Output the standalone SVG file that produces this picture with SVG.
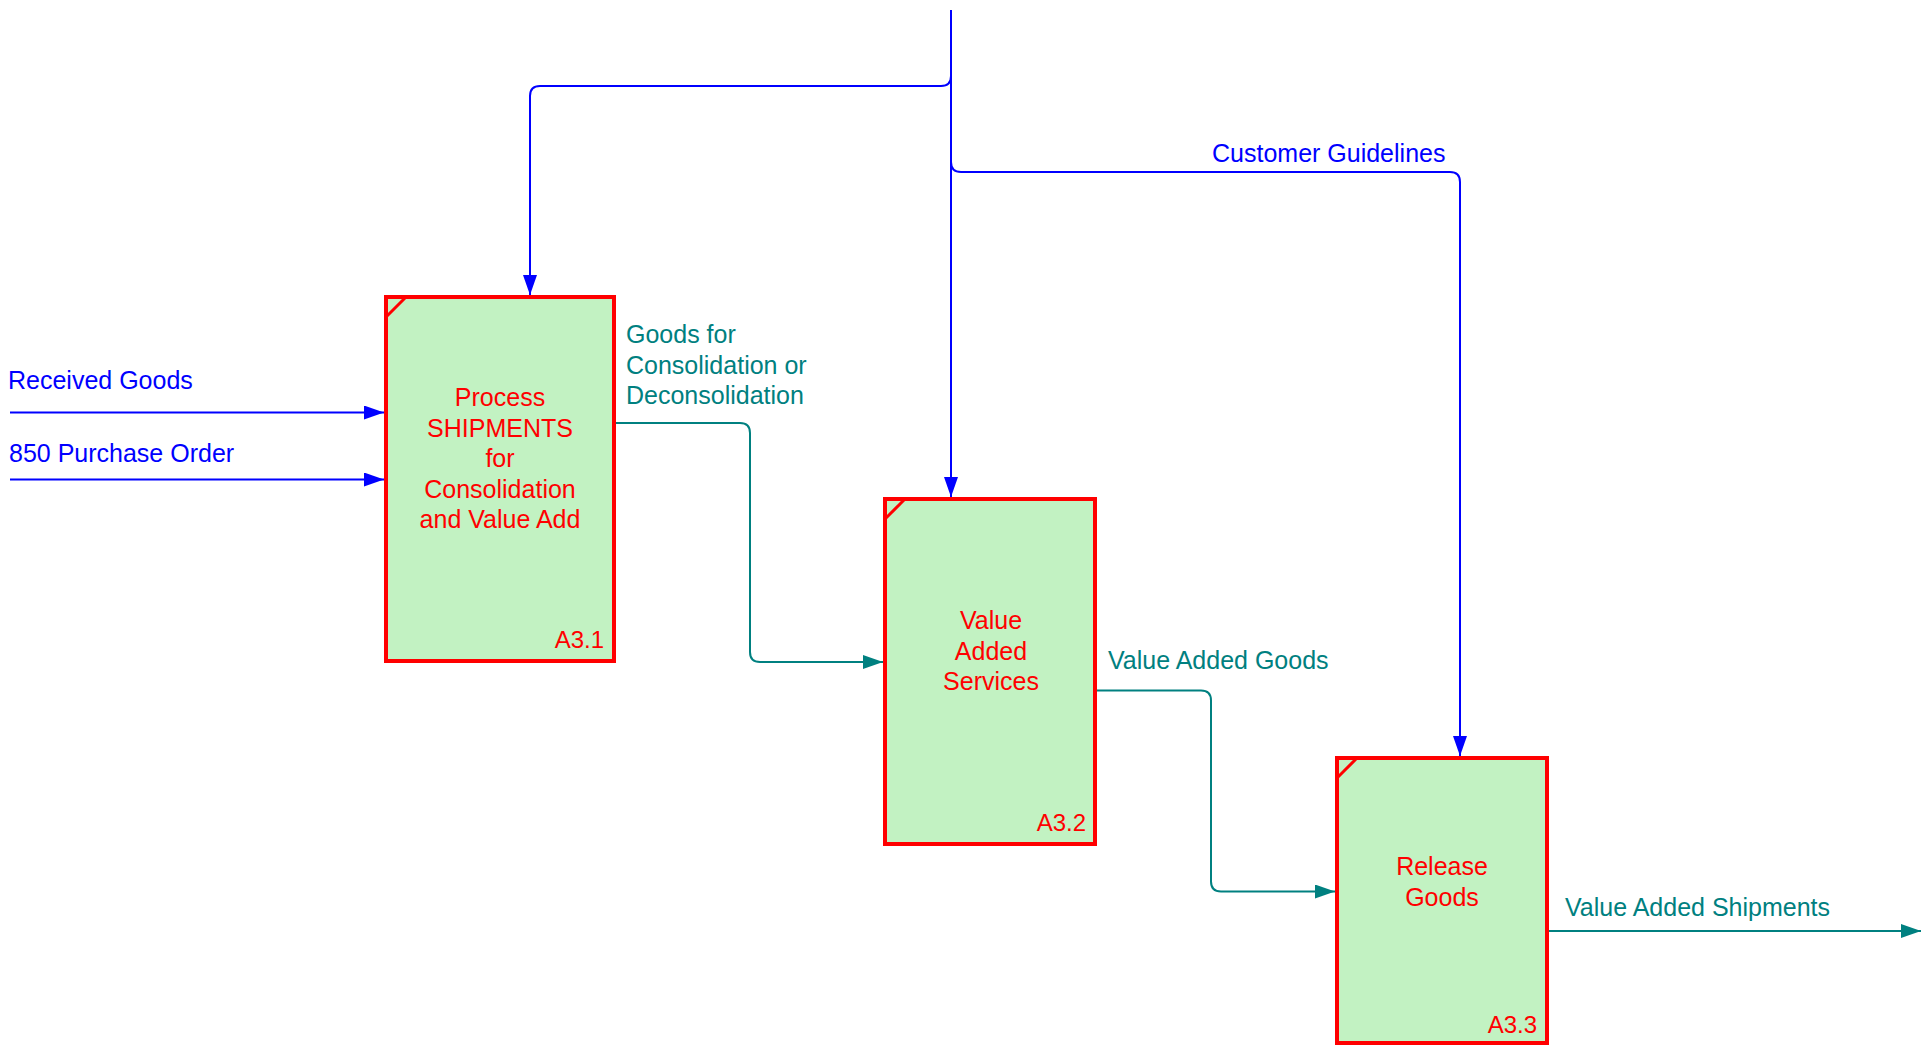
<svg xmlns="http://www.w3.org/2000/svg" width="1923" height="1046" viewBox="0 0 1923 1046">
<style>
.box{fill:#C2F2C2;stroke:#FF0000;stroke-width:4}
.corner{stroke:#FF0000;stroke-width:3;fill:none}
.nt{font-family:"Liberation Sans",Arial,sans-serif;font-size:25px;fill:#FF0000;text-anchor:middle}
.id{font-family:"Liberation Sans",Arial,sans-serif;font-size:24px;fill:#FF0000;text-anchor:end}
.blue{stroke:#0000FF;stroke-width:2;fill:none;marker-end:url(#ab)}
.teal{stroke:#008080;stroke-width:2;fill:none;marker-end:url(#at)}
.lb{font-family:"Liberation Sans",Arial,sans-serif;font-size:25px;fill:#0000FF}
.lt{font-family:"Liberation Sans",Arial,sans-serif;font-size:25px;fill:#008080}
</style>
<defs>
<marker id="ab" markerUnits="userSpaceOnUse" markerWidth="22" markerHeight="16" refX="20" refY="7" orient="auto"><path d="M0,0 L20,7 L0,14 Z" fill="#0000FF"/></marker>
<marker id="at" markerUnits="userSpaceOnUse" markerWidth="22" markerHeight="16" refX="20" refY="7" orient="auto"><path d="M0,0 L20,7 L0,14 Z" fill="#008080"/></marker>
</defs>
<rect width="1923" height="1046" fill="#FFFFFF"/>
<g id="connectors">
<path class="blue" d="M951,10 V497"/>
<path class="blue" d="M951,76 Q951,86 941,86 H540 Q530,86 530,96 V295"/>
<path class="blue" d="M951,162 Q951,172 961,172 H1450 Q1460,172 1460,182 V756"/>
<path class="blue" d="M10,412.5 H384"/>
<path class="blue" d="M10,479.5 H384"/>
<path class="teal" d="M616,423 H740 Q750,423 750,433 V652 Q750,662 760,662 H883"/>
<path class="teal" d="M1097,690.5 H1201 Q1211,690.5 1211,700.5 V881.5 Q1211,891.5 1221,891.5 H1335"/>
<path class="teal" d="M1549,931 H1921"/>
<text class="lb" x="1212" y="162">Customer Guidelines</text>
<text class="lb" x="8" y="389">Received Goods</text>
<text class="lb" x="9" y="462">850 Purchase Order</text>
<text class="lt" x="626" y="343">Goods for</text>
<text class="lt" x="626" y="373.5">Consolidation or</text>
<text class="lt" x="626" y="404">Deconsolidation</text>
<text class="lt" x="1108" y="669">Value Added Goods</text>
<text class="lt" x="1565" y="916">Value Added Shipments</text>
</g>
<g id="A3.1">
<rect class="box" x="386" y="297" width="228" height="364"/>
<path class="corner" d="M386,317 L406,297"/>
<text class="nt" x="500" y="406">Process</text>
<text class="nt" x="500" y="436.5">SHIPMENTS</text>
<text class="nt" x="500" y="467">for</text>
<text class="nt" x="500" y="497.5">Consolidation</text>
<text class="nt" x="500" y="528">and Value Add</text>
<text class="id" x="604" y="648">A3.1</text>
</g>
<g id="A3.2">
<rect class="box" x="885" y="499" width="210" height="345"/>
<path class="corner" d="M885,519 L905,499"/>
<text class="nt" x="991" y="629">Value</text>
<text class="nt" x="991" y="659.5">Added</text>
<text class="nt" x="991" y="690">Services</text>
<text class="id" x="1086" y="831">A3.2</text>
</g>
<g id="A3.3">
<rect class="box" x="1337" y="758" width="210" height="285"/>
<path class="corner" d="M1337,778 L1357,758"/>
<text class="nt" x="1442" y="875">Release</text>
<text class="nt" x="1442" y="905.5">Goods</text>
<text class="id" x="1537" y="1033">A3.3</text>
</g>
</svg>
